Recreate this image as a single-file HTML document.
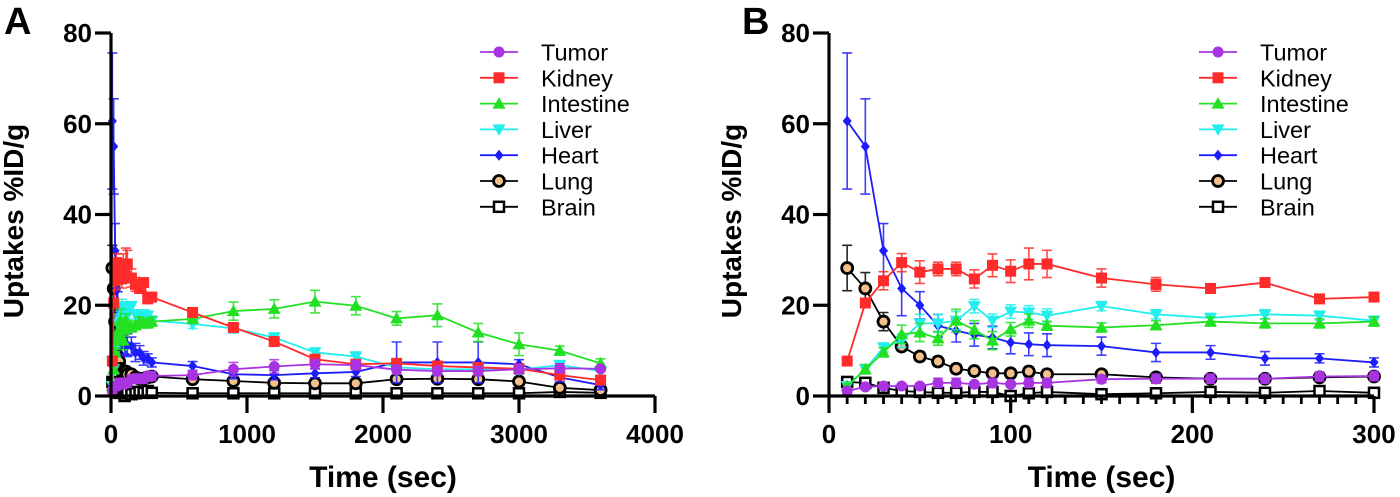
<!DOCTYPE html>
<html><head><meta charset="utf-8">
<style>
html,body{margin:0;padding:0;background:#fff;}
svg{display:block;font-family:"Liberation Sans",Arial,sans-serif;}
</style></head>
<body>
<svg id="chart" width="1400" height="497" viewBox="0 0 1400 497" xmlns="http://www.w3.org/2000/svg"></svg>
<script>
const times = [10,20,30,40,50,60,70,80,90,100,110,120,150,180,210,240,270,300,600,900,1200,1500,1800,2100,2400,2700,3000,3300,3600];
const seriesNames = ["Tumor","Kidney","Intestine","Liver","Heart","Lung","Brain"];
const tumorVals = [1.1,2,2.2,2.2,2.2,2.9,2.9,2.6,2.9,2.6,2.9,2.9,3.7,3.8,3.8,3.8,4.3,4.4,4.6,5.9,6.5,7,6.8,5.8,5.5,5.5,5.9,6.1,6];
const kidneyVals = [7.7,20.5,25.4,29.4,27.3,28,28,25.8,28.8,27.5,29.1,29.1,26,24.6,23.7,25,21.4,21.8,18.4,15.1,12,8.1,7,7.2,6.6,6.3,6,4.6,3.5];
const intestineVals = [2.2,5.9,9.6,13.6,14,12.7,16.6,14.6,12.2,14.7,16.6,15.5,15.1,15.6,16.4,16,16,16.4,17,18.7,19.2,20.8,19.9,17.1,17.8,14,11.4,10,7.2];
const liverVals = [2.2,5.9,10.7,12.2,16,16,16.6,19.8,16.6,18.6,18.4,17.7,19.8,18,17.2,18,17.7,16.6,15.9,14.9,12.9,9.6,8.7,6.3,5.9,5.9,5.8,6.8,5.5];
const heartVals = [60.6,55,32,23.7,20,15.5,14.4,13.5,12.9,11.8,11.4,11.2,11,9.6,9.6,8.3,8.3,7.4,6.6,4.8,4.6,5,5.3,7.4,7.4,7.4,7,4.1,2.4];
const lungVals = [28.2,23.7,16.4,10.9,8.7,7.6,6,5.5,5,5,5.4,4.8,4.8,4.1,3.8,3.8,4.1,4.3,3.7,3.3,2.9,2.8,2.8,3.7,3.8,3.7,3.2,1.8,1.3];
const brainVals = [3.1,2.9,1.8,1.1,0.9,0.7,0.7,0.9,0.9,0,0.6,0.9,0.4,0.6,0.9,0.7,1.1,0.7,0.6,0.6,0.6,0.6,0.6,0.6,0.6,0.6,0.6,0.9,0.7];
const tumorErr = [0.5,0.5,0.5,0.5,0.5,1,1,0.5,1,0.5,1,1,0.8,1,1,1,1,1,1,1.5,1.5,1,1,1,1,1,1,1,0.5];
const kidneyErr = [0.5,1,2,2,2.5,1.5,1.5,2,2.5,2.5,3.5,3,2,1.5,1,1,0.5,1,1,1,1,1,1,1,1,1,1,1,1];
const intestineErr = [0.5,1,1,2,2,1.5,2.5,2,2,1.5,1.5,1,1,1,1,1,1,1,1,2,2,2.5,2,1.5,2.5,2,2.5,1,1];
const liverErr = [0.5,1,1,1.5,2,2,2,1.5,1.5,1.5,1.5,1.5,1,1,1,1,1,1,1,1,1,1,1,1,1,1,1,1,1];
const heartErr = [15,10.5,6,6,3,2.5,2.5,2.5,2.5,2.5,2.5,2.5,2,2,1.5,1.5,1,1,1,1,1,1,1,4.5,4.5,4.5,1,1,1];
const lungErr = [5,3.5,2,1,1,1,1,1,1,1,1,1,0.5,0.5,0.5,0.5,0.5,0.5,0.5,0.5,0.5,0.5,0.5,0.5,0.5,0.5,0.5,0.5,0.5];
const brainErr = [0.5,0.5,0.5,0.3,0.3,0.3,0.3,0.3,0.3,0.3,0.3,0.3,0.3,0.3,0.3,0.3,0.3,0.3,0.3,0.3,0.3,0.3,0.3,0.3,0.3,0.3,0.3,0.3,0.3];
const yTicks = [0,20,40,60,80];
const xTicksA = [0,1000,2000,3000,4000];
const xTicksB = [0,100,200,300];

const NS = "http://www.w3.org/2000/svg";
const svg = document.getElementById("chart");
function mk(tag, attrs, parent){
  const e = document.createElementNS(NS, tag);
  for (const k in attrs) e.setAttribute(k, attrs[k]);
  (parent||svg).appendChild(e);
  return e;
}
const styles = [
  {color:"#a833e0", shape:"circle", fill:"#a833e0"},
  {color:"#ff2a2a", shape:"square", fill:"#ff2a2a"},
  {color:"#22e022", shape:"tri", fill:"#22e022"},
  {color:"#22eeee", shape:"tridown", fill:"#22eeee"},
  {color:"#1c1cff", shape:"diamond", fill:"#1c1cff"},
  {color:"#000000", shape:"ring", fill:"#f2c08a"},
  {color:"#000000", shape:"opensq", fill:"#ffffff"}
];
const vals = [tumorVals,kidneyVals,intestineVals,liverVals,heartVals,lungVals,brainVals];
const errs = [tumorErr,kidneyErr,intestineErr,liverErr,heartErr,lungErr,brainErr];

function marker(g, shape, cx, cy, st){
  let e;
  if (shape==="circle") e = mk("circle",{cx:cx,cy:cy,r:5.5,fill:st.fill},g);
  else if (shape==="square") e = mk("rect",{x:cx-5.5,y:cy-5.5,width:11,height:11,fill:st.fill},g);
  else if (shape==="tri") e = mk("polygon",{points:`${cx},${cy-6.5} ${cx+6.5},${cy+5} ${cx-6.5},${cy+5}`,fill:st.fill},g);
  else if (shape==="tridown") e = mk("polygon",{points:`${cx},${cy+6.5} ${cx+6.5},${cy-5} ${cx-6.5},${cy-5}`,fill:st.fill},g);
  else if (shape==="diamond") e = mk("polygon",{points:`${cx},${cy-5.5} ${cx+4.5},${cy} ${cx},${cy+5.5} ${cx-4.5},${cy}`,fill:st.fill},g);
  else if (shape==="ring") e = mk("circle",{cx:cx,cy:cy,r:5.5,fill:st.fill,stroke:"#000","stroke-width":2.8},g);
  else e = mk("rect",{x:cx-5,y:cy-5,width:10,height:10,fill:"#fff",stroke:"#000","stroke-width":2.5},g);
  return e;
}

function panel(opts){
  const {id, x0, x1, xmax, xTicks, minorStep, tmax, letterX, legendX} = opts;
  const y0 = 396, y1 = 33;
  const sx = v => x0 + (v/xmax)*(x1-x0);
  const sy = v => y0 - (v/80)*(y0-y1);
  const g = mk("g",{});
  
  
  const letter = mk("text",{x:letterX,y:34,"font-size":38,"font-weight":"bold",fill:"#000"},g);
  letter.textContent = id;
  
  
  for (let s = seriesNames.length-1; s >= 0; s--){
    const st = styles[s];
    const sg = mk("g",{},g);
    
    
    let pts = [];
    for (let i=0;i<times.length;i++){
      if (times[i] > tmax) continue;
      pts.push([sx(times[i]), sy(vals[s][i]), i]);
    }
    for (const p of pts){
      const e = errs[s][p[2]];
      const v = vals[s][p[2]];
      const eb = mk("path",{d:`M${p[0]},${sy(v+e)}V${sy(Math.max(0,v-e))}M${p[0]-5},${sy(v+e)}H${p[0]+5}M${p[0]-5},${sy(Math.max(0,v-e))}H${p[0]+5}`,stroke:st.color,"stroke-width":1.6,fill:"none",opacity:0.85},sg);
      
      
    }
    const line = mk("polyline",{points:pts.map(p=>p[0]+","+p[1]).join(" "),fill:"none",stroke:st.color,"stroke-width":1.8},sg);
    
    
    for (const p of pts){
      const m = marker(sg, st.shape, p[0], p[1], st);
      
      
    }
  }
  const ax = mk("path",{d:`M${x0},${y1}V${y0}H${x1}`,stroke:"#000","stroke-width":3.2,fill:"none"},g);
  
  
  for (const t of yTicks){
    const tk = mk("line",{x1:x0-16,x2:x0,y1:sy(t),y2:sy(t),stroke:"#000","stroke-width":3.2},g);
    
    
    const lb = mk("text",{x:x0-19,y:sy(t)+9,"text-anchor":"end","font-size":26,"font-weight":"bold"},g);
    lb.textContent = t;
    
    
  }
  if (minorStep){
    for (let v=minorStep; v<xmax; v+=minorStep){
      if (xTicks.includes(v)) continue;
      const mt = mk("line",{x1:sx(v),x2:sx(v),y1:y0,y2:y0+8,stroke:"#000","stroke-width":2.8},g);
      
      
    }
  }
  for (const t of xTicks){
    const tk = mk("line",{x1:sx(t),x2:sx(t),y1:y0,y2:y0+17,stroke:"#000","stroke-width":3.2},g);
    
    
    const lb = mk("text",{x:sx(t),y:443,"text-anchor":"middle","font-size":26,"font-weight":"bold"},g);
    lb.textContent = t;
    
    
  }
  const xt = mk("text",{x:(x0+x1)/2,y:487,"text-anchor":"middle","font-size":30,"font-weight":"bold"},g);
  xt.textContent = "Time (sec)";
  
  
  const yt = mk("text",{x:0,y:0,"text-anchor":"middle","font-size":28,"font-weight":"bold",transform:`translate(${x0-88},221) rotate(-90)`},g);
  yt.textContent = "Uptakes %ID/g";
  
  
  const lg = mk("g",{},g);
  
  
  for (let s=0;s<seriesNames.length;s++){
    const cy = 52 + s*25.8;
    const st = styles[s];
    const eg = mk("g",{},lg);
    
    
    mk("line",{x1:legendX-19,x2:legendX+19,y1:cy,y2:cy,stroke:st.color,"stroke-width":1.8},eg);
    marker(eg, st.shape, legendX, cy, st);
    const tx = mk("text",{x:legendX+42,y:cy+8.5,"font-size":23.5,fill:"#000"},eg);
    tx.textContent = seriesNames[s];
  }
}
panel({id:"A", x0:111, x1:655, xmax:4000, xTicks:xTicksA, minorStep:0, tmax:4000, letterX:4, legendX:499});
panel({id:"B", x0:829, x1:1374, xmax:300, xTicks:xTicksB, minorStep:10, tmax:300, letterX:742, legendX:1218});
</script>
</body></html>
